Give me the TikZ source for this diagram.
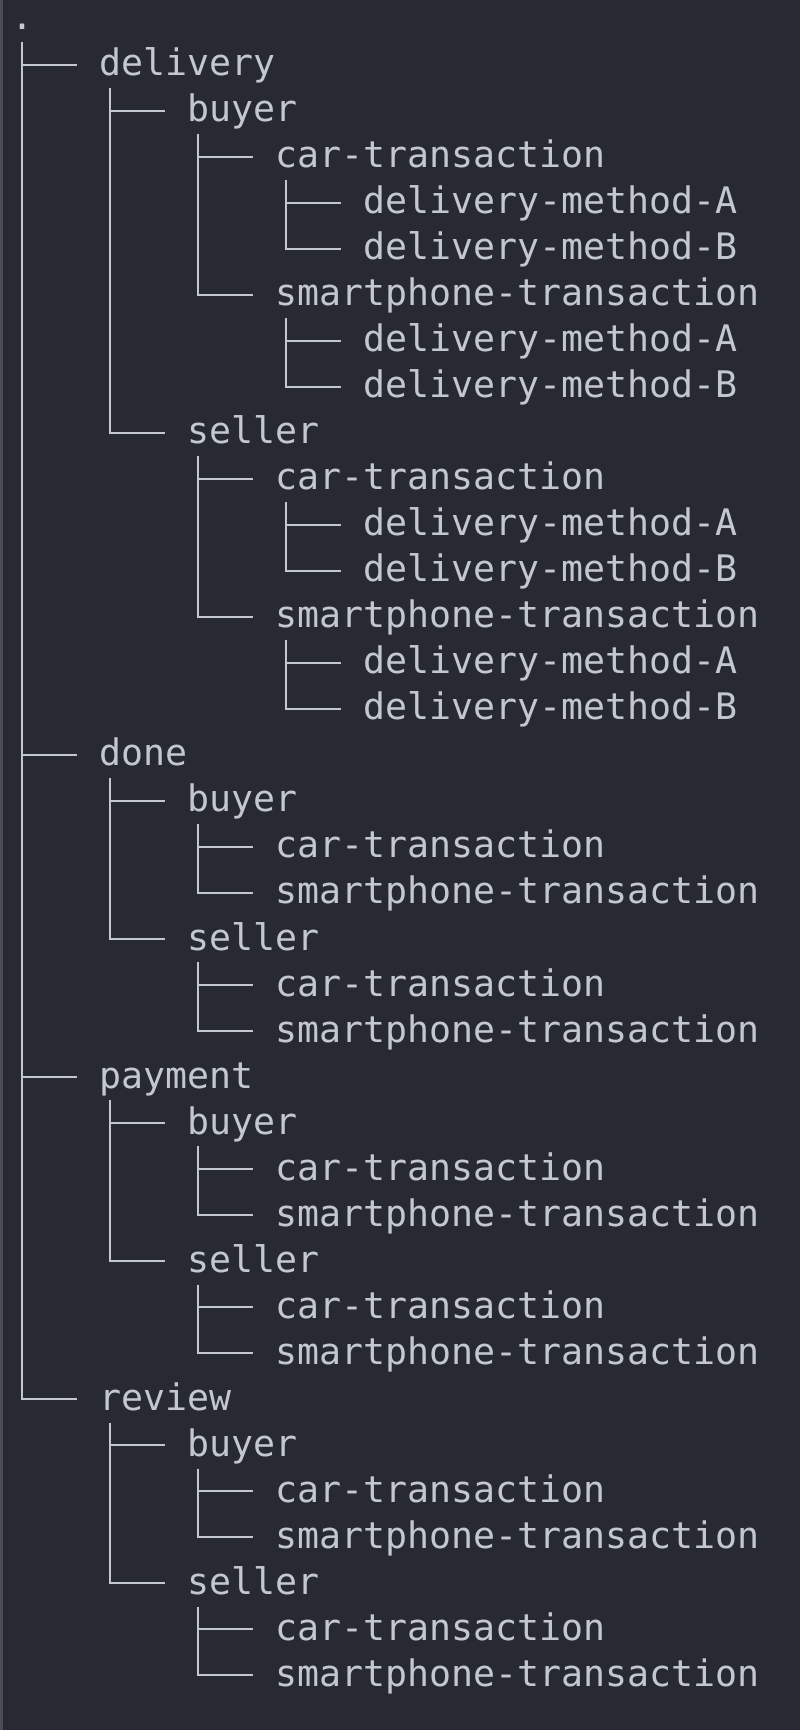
\documentclass[tikz,border=0pt]{standalone}
\usepackage{fontspec}
\setmonofont{DejaVu Sans Mono}
\usepackage{tikz}

\definecolor{termbg}{HTML}{272A33}
\definecolor{termfg}{HTML}{C3C7D0}
\definecolor{termedge}{HTML}{4A4D56}

\begin{document}
\begin{tikzpicture}[
	entry/.style = {anchor=west, inner sep=0pt, text=termfg,
		text height=0.68cm, text depth=0.24cm,
		font=\ttfamily\fontsize{20.8}{24}\selectfont},
	branch/.style = {draw=termfg, line width=0.04cm}]
				% window
				\fill[termbg] (0,0) rectangle (16,-34.6);
				\fill[termedge] (0,0) rectangle (0.05,-34.6);
				\useasboundingbox (0,0) rectangle (16,-34.6);
				\begin{scope}[yshift=-0.37cm, y=-0.9205cm]
				\node[entry] (root) at(0.22,0){.};
				% delivery
				\node[entry] (del) at(1.98,1){delivery};
				\node[entry] (delB) at(3.74,2){buyer};
				\node[entry] (delBcar) at(5.50,3){car-transaction};
				\node[entry] (delBcarA) at(7.26,4){delivery-method-A};
				\node[entry] (delBcarB) at(7.26,5){delivery-method-B};
				\node[entry] (delBsp) at(5.50,6){smartphone-transaction};
				\node[entry] (delBspA) at(7.26,7){delivery-method-A};
				\node[entry] (delBspB) at(7.26,8){delivery-method-B};
				\node[entry] (delS) at(3.74,9){seller};
				\node[entry] (delScar) at(5.50,10){car-transaction};
				\node[entry] (delScarA) at(7.26,11){delivery-method-A};
				\node[entry] (delScarB) at(7.26,12){delivery-method-B};
				\node[entry] (delSsp) at(5.50,13){smartphone-transaction};
				\node[entry] (delSspA) at(7.26,14){delivery-method-A};
				\node[entry] (delSspB) at(7.26,15){delivery-method-B};
				% done
				\node[entry] (done) at(1.98,16){done};
				\node[entry] (doneB) at(3.74,17){buyer};
				\node[entry] (doneBcar) at(5.50,18){car-transaction};
				\node[entry] (doneBsp) at(5.50,19){smartphone-transaction};
				\node[entry] (doneS) at(3.74,20){seller};
				\node[entry] (doneScar) at(5.50,21){car-transaction};
				\node[entry] (doneSsp) at(5.50,22){smartphone-transaction};
				% payment
				\node[entry] (pay) at(1.98,23){payment};
				\node[entry] (payB) at(3.74,24){buyer};
				\node[entry] (payBcar) at(5.50,25){car-transaction};
				\node[entry] (payBsp) at(5.50,26){smartphone-transaction};
				\node[entry] (payS) at(3.74,27){seller};
				\node[entry] (payScar) at(5.50,28){car-transaction};
				\node[entry] (paySsp) at(5.50,29){smartphone-transaction};
				% review
				\node[entry] (rev) at(1.98,30){review};
				\node[entry] (revB) at(3.74,31){buyer};
				\node[entry] (revBcar) at(5.50,32){car-transaction};
				\node[entry] (revBsp) at(5.50,33){smartphone-transaction};
				\node[entry] (revS) at(3.74,34){seller};
				\node[entry] (revScar) at(5.50,35){car-transaction};
				\node[entry] (revSsp) at(5.50,36){smartphone-transaction};
				\end{scope}
				% branches
				\foreach \p/\c in {root/del, root/done, root/pay, root/rev,
					del/delB, del/delS, done/doneB, done/doneS,
					pay/payB, pay/payS, rev/revB, rev/revS,
					delB/delBcar, delB/delBsp, delS/delScar, delS/delSsp,
					doneB/doneBcar, doneB/doneBsp, doneS/doneScar, doneS/doneSsp,
					payB/payBcar, payB/payBsp, payS/payScar, payS/paySsp,
					revB/revBcar, revB/revBsp, revS/revScar, revS/revSsp,
					delBcar/delBcarA, delBcar/delBcarB, delBsp/delBspA, delBsp/delBspB,
					delScar/delScarA, delScar/delScarB, delSsp/delSspA, delSsp/delSspB}
					\draw[branch] ([xshift=0.22cm]\p.south west) |- ([xshift=-0.44cm]\c.west);
			\end{tikzpicture}
\end{document}
